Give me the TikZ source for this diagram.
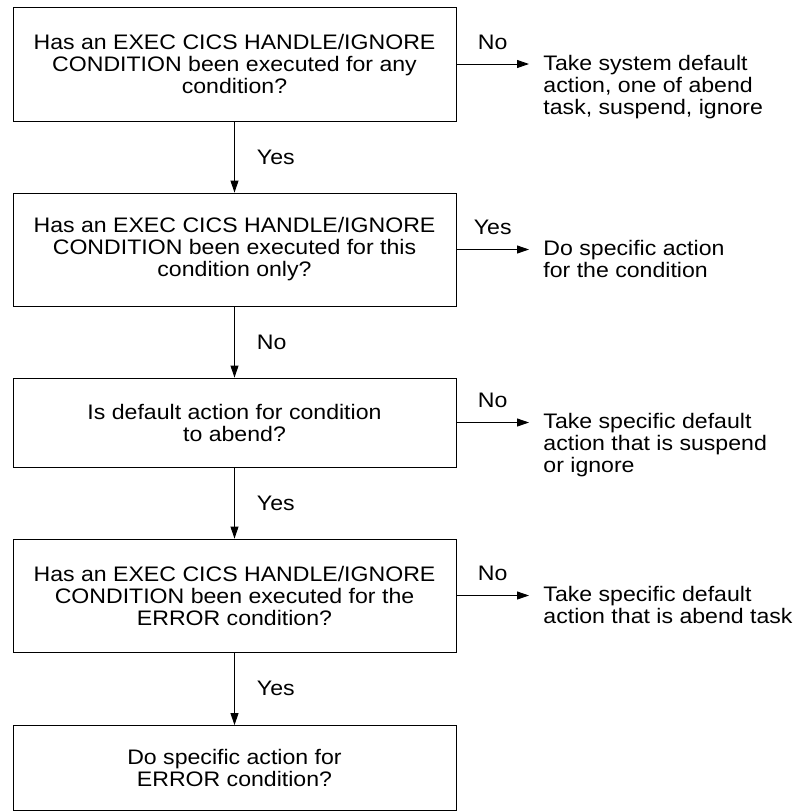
\documentclass[tikz,border=0pt]{standalone}
\usepackage{fontspec}
\setmainfont[FakeStretch=1.1]{Liberation Sans}
\usetikzlibrary{arrows.meta}

\begin{document}
\begin{tikzpicture}[x=1pt, y=-1pt, line width=0.9pt,
    font=\fontsize{21}{22}\selectfont,
    question/.style={draw, minimum width=443pt, inner sep=0pt, align=center},
    outcome/.style={anchor=base west, inner sep=0pt, align=left},
    answer/.style={inner sep=0pt},
    >={Triangle[length=12pt, width=8pt]}]
      \useasboundingbox (0,0) rectangle (809,812);
      \node[question, minimum height=114pt] (Q1) at (234.5,64)
        {Has an EXEC CICS HANDLE/IGNORE\\CONDITION been executed for any\\condition?};
      \node[question, minimum height=113pt] (Q2) at (234.5,249.5)
        {Has an EXEC CICS HANDLE/IGNORE\\CONDITION been executed for this\\condition only?};
      \node[question, minimum height=89pt] (Q3) at (234.5,422.5)
        {Is default action for condition\\to abend?};
      \node[question, minimum height=113pt] (Q4) at (234.5,595.5)
        {Has an EXEC CICS HANDLE/IGNORE\\CONDITION been executed for the\\ERROR condition?};
      \node[question, minimum height=85pt] (Q5) at (234.5,768)
        {Do specific action for\\ERROR condition?};
      % outcomes on the right
      \coordinate (E1) at (529,64);
      \coordinate (E2) at (529,249.5);
      \coordinate (E3) at (529,422.5);
      \coordinate (E4) at (529,595.5);
      \node[outcome] (R1) at (543,114) {Take system default\\action, one of abend\\task, suspend, ignore};
      \node[outcome] (R2) at (543,277.5) {Do specific action\\for the condition};
      \node[outcome] (R3) at (543,472.5) {Take specific default\\action that is suspend\\or ignore};
      \node[outcome] (R4) at (543,623.5) {Take specific default\\action that is abend task};
      \path (Q1.east) edge [->] node[answer, anchor=base, yshift=15pt] {No} (E1);
      \path (Q2.east) edge [->] node[answer, anchor=base, yshift=15pt] {Yes} (E2);
      \path (Q3.east) edge [->] node[answer, anchor=base, yshift=15pt] {No} (E3);
      \path (Q4.east) edge [->] node[answer, anchor=base, yshift=15pt] {No} (E4);
      % down the chain
      \path (Q1) edge [->] node[answer, anchor=base west, xshift=22pt, yshift=-7pt] {Yes} (Q2);
      \path (Q2) edge [->] node[answer, anchor=base west, xshift=22pt, yshift=-7pt] {No} (Q3);
      \path (Q3) edge [->] node[answer, anchor=base west, xshift=22pt, yshift=-7pt] {Yes} (Q4);
      \path (Q4) edge [->] node[answer, anchor=base west, xshift=22pt, yshift=-7pt] {Yes} (Q5);
    \end{tikzpicture}
\end{document}
